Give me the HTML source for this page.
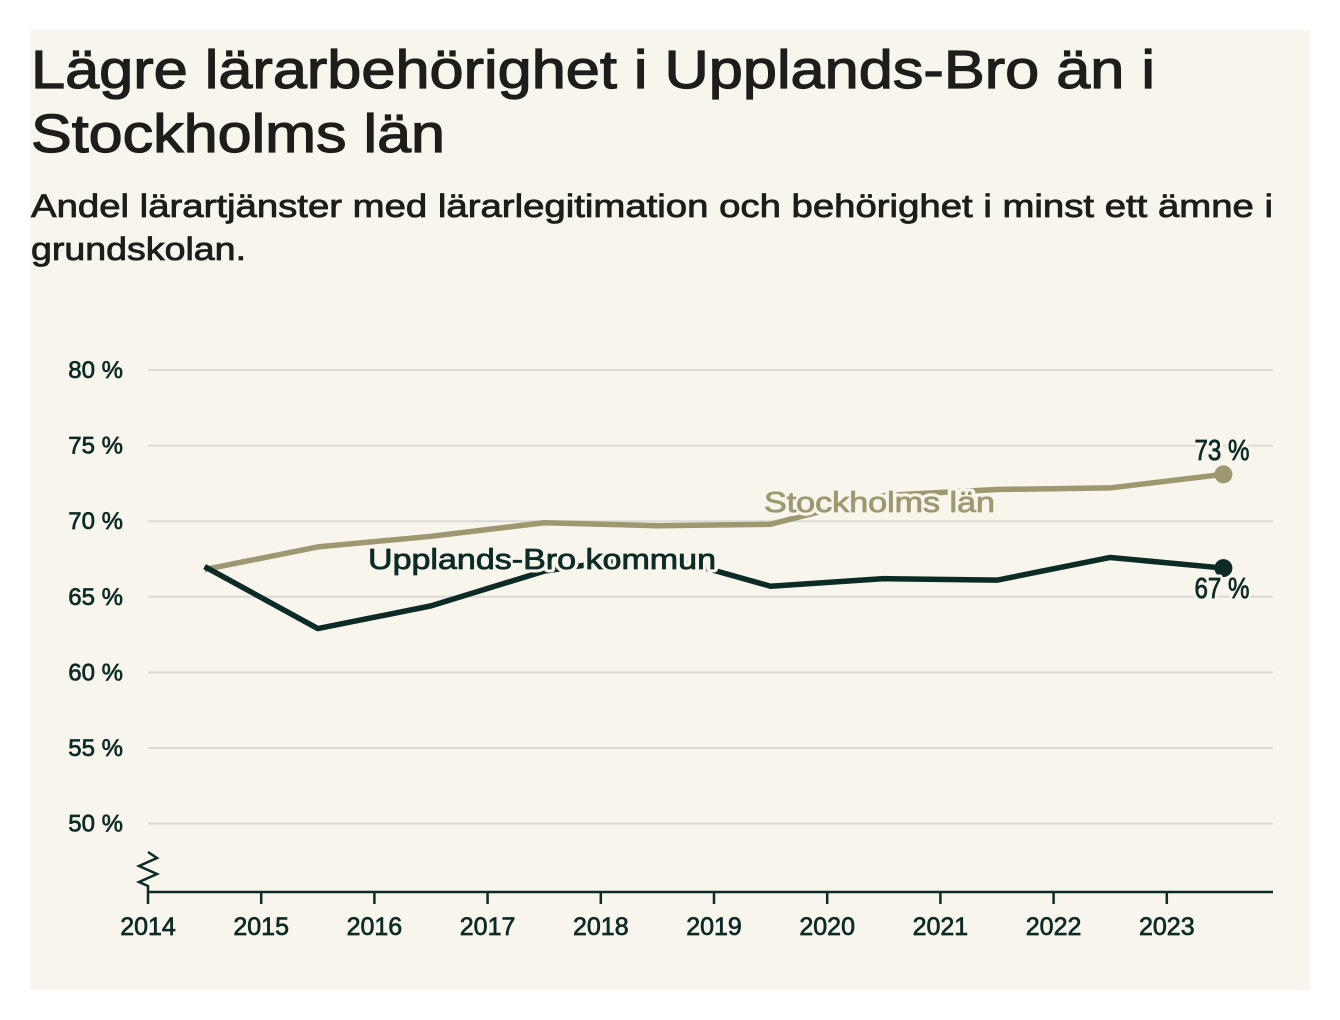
<!DOCTYPE html>
<html><head><meta charset="utf-8"><style>
body{margin:0;background:#fff;width:1340px;height:1020px;overflow:hidden;font-family:"Liberation Sans",sans-serif}
#panel{position:absolute;left:30px;top:30px;width:1280px;height:960px;background:#f7f5ec}
svg{position:absolute;left:0;top:0}
</style></head><body>
<div id="panel"></div>
<svg width="1340" height="300" style="font-family:'Liberation Sans',sans-serif">
<text font-size="54" fill="#1d1d1b" stroke="#1d1d1b" stroke-width="1.2">
<tspan x="31" y="88" textLength="1124" lengthAdjust="spacingAndGlyphs">Lägre lärarbehörighet i Upplands-Bro än i</tspan>
<tspan x="31" y="152" textLength="414" lengthAdjust="spacingAndGlyphs">Stockholms län</tspan></text>
<text font-size="32" fill="#1d1d1b" stroke="#1d1d1b" stroke-width="0.8">
<tspan x="31" y="217" textLength="1242" lengthAdjust="spacingAndGlyphs">Andel lärartjänster med lärarlegitimation och behörighet i minst ett ämne i</tspan>
<tspan x="31" y="260" textLength="215" lengthAdjust="spacingAndGlyphs">grundskolan.</tspan></text>
</svg>
<svg id="c" width="1340" height="1020"></svg>
<script>
const years=[2014.5,2015.5,2016.5,2017.5,2018.5,2019.5,2020.5,2021.5,2022.5,2023.5];
const stockholm=[66.8,68.3,69.0,69.9,69.7,69.8,71.7,72.1,72.2,73.1];
const upplandsBro=[67.0,62.9,64.4,66.7,67.8,65.7,66.2,66.1,67.6,66.9];
const yTicks=[50,55,60,65,70,75,80];
const xTicks=[2014,2015,2016,2017,2018,2019,2020,2021,2022,2023];
const NS="http://www.w3.org/2000/svg",svg=document.getElementById('c');
const x=v=>148+(v-2014)*113.2, y=v=>370+(80-v)*15.12;
const F='"Liberation Sans",sans-serif', DARK='#0d2b26', OLIVE='#9e9870', BG='#f7f5ec';
function mk(t,a){const e=document.createElementNS(NS,t);for(const k in a)e.setAttribute(k,a[k]);svg.appendChild(e);return e;}
yTicks.forEach(v=>{
 const g=mk('line',{x1:148,x2:1273,y1:y(v),y2:y(v),stroke:'#dcdad4','stroke-width':2});
 
 
 const t=mk('text',{x:123,y:y(v)+8,'text-anchor':'end','font-size':24,fill:DARK,stroke:DARK,'stroke-width':0.7,'font-family':F});
 t.textContent=v+' %';
 
 
});
const ax=mk('line',{x1:148,x2:1273,y1:892,y2:892,stroke:DARK,'stroke-width':2.5});


const zz=mk('polyline',{points:'148,852 157,858 139,866 157,874 139,882 148,886 148,892',fill:'none',stroke:DARK,'stroke-width':2.5});


xTicks.forEach(v=>{
 const tk=mk('line',{x1:x(v),x2:x(v),y1:892,y2:904,stroke:DARK,'stroke-width':2.5});
 
 
 const t=mk('text',{x:x(v),y:935,'text-anchor':'middle','font-size':25,fill:DARK,stroke:DARK,'stroke-width':0.7,'font-family':F});
 t.textContent=v;
 
 
});
function series(vals,col,name){
 const p=mk('polyline',{points:years.map((yr,i)=>x(yr)+','+y(vals[i])).join(' '),fill:'none',stroke:col,'stroke-width':5.5,'stroke-linejoin':'round'});
 
 
 const n=vals.length-1;
 const c=mk('circle',{cx:x(years[n]),cy:y(vals[n]),r:9,fill:col});
 
 
}
series(stockholm,OLIVE,'stockholm');
series(upplandsBro,DARK,'upplands-bro');
function label(txt,xx,yy,col,name,anchor,len){
 const a={x:xx,y:yy,'font-size':29,fill:col,'font-family':F,'text-anchor':anchor||'start'};
 if(len){a.textLength=len;a.lengthAdjust='spacingAndGlyphs';}
 const h=mk('text',Object.assign({},a,{stroke:BG,'stroke-width':7,'stroke-linejoin':'round'}));
 h.textContent=txt;
 
 
 const t=mk('text',Object.assign({},a,{stroke:col,'stroke-width':0.8}));
 t.textContent=txt;
 
 
}
label('Stockholms län',764,512,OLIVE,'stockholm-label','start',231);
label('Upplands-Bro kommun',368,569,DARK,'upplands-bro-label','start',348);
label(Math.round(stockholm[9])+' %',1222,460,DARK,'stockholm-end-value','middle',55);
label(Math.round(upplandsBro[9])+' %',1222,598,DARK,'upplands-bro-end-value','middle',55);
</script>
</body></html>
